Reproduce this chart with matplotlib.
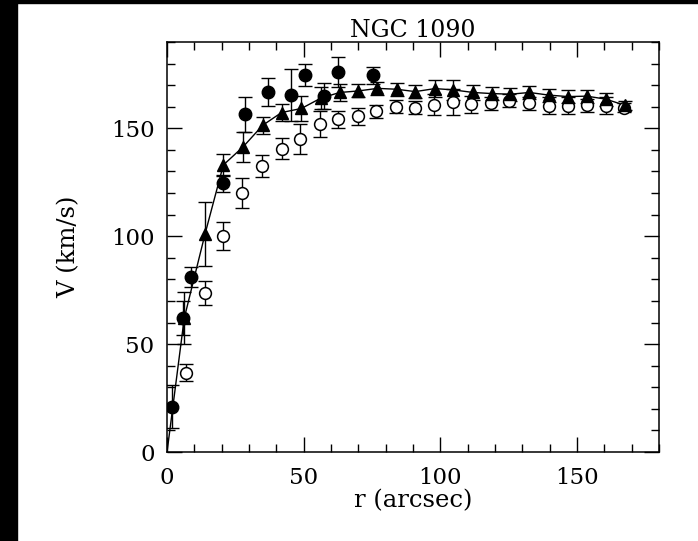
import matplotlib
matplotlib.use("Agg")
import matplotlib.pyplot as plt
from matplotlib.patches import Rectangle
from matplotlib.ticker import MultipleLocator

plt.rcParams.update({
    "font.family": "DejaVu Serif", "font.size": 16.5,
    "axes.linewidth": 1.1,
    "xtick.direction": "in", "ytick.direction": "in",
    "xtick.top": True, "ytick.right": True,
    "xtick.major.size": 11, "ytick.major.size": 11,
    "xtick.minor.size": 5.5, "ytick.minor.size": 5.5,
    "xtick.major.width": 1.0, "ytick.major.width": 1.0,
    "xtick.minor.width": 1.0, "ytick.minor.width": 1.0,
    "xtick.major.pad": 11, "ytick.major.pad": 9,
})

# filled circles
r_fill = [1.8, 5.8, 8.8, 20.5, 28.5, 36.8, 45.5, 50.3, 57.5, 62.6, 75.5]
v_fill = [21, 62, 81, 124.5, 156.5, 167, 165.3, 174.8, 165, 176.2, 174.6]
e_fill = [10, 8, 4.5, 4, 8, 6.5, 12, 5, 6, 7, 4]

# triangles (model / line); first point is the origin of the curve
r_tri = [0, 6.3, 13.9, 20.6, 27.9, 35.0, 41.9, 49.2, 56.3, 63.2, 69.9, 77.0,
         84.0, 90.8, 98.0, 104.8, 112.0, 118.8, 125.6, 132.6, 139.6, 146.6,
         153.6, 160.6, 167.4]
v_tri = [0, 62, 101, 133, 141.5, 151.4, 157.3, 159.2, 164, 166.6, 167.3, 168.5,
         168.1, 167, 168.4, 167.8, 166.6, 166.1, 165.8, 166.6, 165.4, 164.7,
         164.9, 163.5, 160.7]
e_tri = [0, 12, 15, 5, 7, 4, 4, 6, 5, 4, 3, 3,
         3, 3, 4, 4.5, 3.5, 3, 3, 3, 3, 3,
         3, 3, 2]

# open circles
r_open = [6.9, 13.9, 20.6, 27.6, 34.6, 41.9, 48.6, 55.9, 62.6, 69.7, 76.6,
          83.8, 90.6, 97.5, 104.5, 111.3, 118.6, 125.3, 132.6, 139.9, 146.6,
          153.6, 160.6, 167.3]
v_open = [36.8, 73.7, 100, 120, 132.5, 140.6, 145, 152, 154.2, 155.5, 158,
          159.9, 159.5, 161, 162, 161.2, 161.6, 162.7, 161.6, 160.4, 160.4,
          160.7, 160.4, 159.6]
e_open = [4, 5.5, 6.5, 7, 5, 5, 7, 6, 4, 4, 3,
          3, 3, 5, 6, 4, 3, 3, 3, 4, 4,
          3, 4, 2]

fig = plt.figure(figsize=(6.98, 5.41), dpi=100, facecolor="white")
ax = fig.add_axes([0.2393, 0.1645, 0.7048, 0.7579])

eb = dict(fmt="none", ecolor="black", elinewidth=1.0, capsize=5, capthick=1.0)
ax.errorbar(r_open, v_open, yerr=e_open, **eb)
ax.errorbar(r_tri[1:], v_tri[1:], yerr=e_tri[1:], **eb)
ax.errorbar(r_fill, v_fill, yerr=e_fill, **eb)

ax.plot(r_tri, v_tri, color="black", lw=1.0, zorder=3)
ax.plot(r_open, v_open, ls="none", marker="o", ms=8.5, mfc="white",
        mec="black", mew=1.1, zorder=4)
ax.plot(r_tri, v_tri, ls="none", marker="^", ms=9, color="black",
        markevery=slice(1, None), zorder=5)
ax.plot(r_fill, v_fill, ls="none", marker="o", ms=9, color="black", zorder=6)

ax.set_xlim(0, 180)
ax.set_ylim(0, 190)
ax.xaxis.set_major_locator(MultipleLocator(50))
ax.xaxis.set_minor_locator(MultipleLocator(10))
ax.yaxis.set_major_locator(MultipleLocator(50))
ax.yaxis.set_minor_locator(MultipleLocator(10))

ax.set_xlabel("r (arcsec)", fontsize=17.5, labelpad=0)
ax.set_ylabel("V (km/s)", fontsize=17.5, labelpad=22)
ax.set_title("NGC 1090", fontsize=17, pad=3)

# dark scan border along the left and top edges
fig.add_artist(Rectangle((0, 0), 17 / 698, 1, transform=fig.transFigure,
                         color="black", zorder=-1))
fig.add_artist(Rectangle((0, 1 - 3 / 541), 1, 3 / 541, transform=fig.transFigure,
                         color="black", zorder=-1))

fig.savefig("out.png", dpi=100, facecolor="white")
